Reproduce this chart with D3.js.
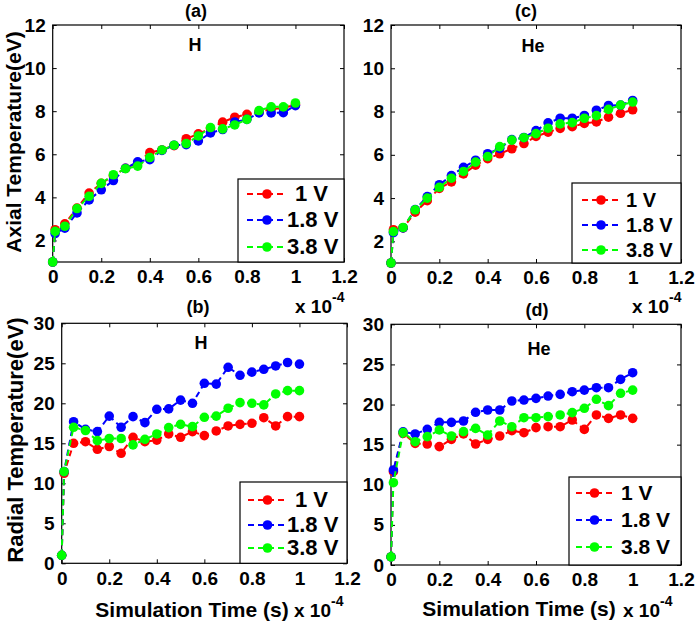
<!DOCTYPE html>
<html><head><meta charset="utf-8">
<script src="https://cdn.jsdelivr.net/npm/d3@7"></script>
<style>
body{margin:0;background:#fff}
text{font-family:"Liberation Sans",Arial,sans-serif;font-weight:bold;fill:#000}
</style>
</head><body>
<svg id="chart" width="695" height="623"></svg>
<script>
// ---- data (time in units of 1e-4 s) ----
const timeX = [0, 0.01, 0.05, 0.10, 0.15, 0.20, 0.25, 0.30, 0.35, 0.40, 0.45, 0.50, 0.55, 0.60, 0.65, 0.70, 0.75, 0.80, 0.85, 0.90, 0.95, 1.00];
const xTickValues = [0, 0.2, 0.4, 0.6, 0.8, 1, 1.2];
const axialTickValues = [2, 4, 6, 8, 10, 12];
const radialTickValues = [0, 5, 10, 15, 20, 25, 30];
const seriesNames = ["1 V", "1.8 V", "3.8 V"];
const seriesColors = ["#ff0000", "#0000ff", "#00ff00"];

// (a) axial, H
const axialH_1V  = [1, 2.50, 2.77, 3.50, 4.20, 4.65, 5.00, 5.35, 5.60, 6.08, 6.20, 6.40, 6.72, 6.95, 7.20, 7.49, 7.72, 7.85, 7.95, 8.10, 8.15, 8.30];
const axialH_18V = [1, 2.32, 2.57, 3.28, 3.88, 4.35, 4.78, 5.35, 5.65, 5.75, 6.18, 6.42, 6.45, 6.62, 6.99, 7.15, 7.50, 7.62, 7.92, 7.92, 7.93, 8.26];
const axialH_38V = [1, 2.42, 2.66, 3.48, 4.05, 4.65, 5.05, 5.33, 5.45, 5.85, 6.20, 6.42, 6.50, 6.85, 7.24, 7.18, 7.36, 7.62, 8.03, 8.20, 8.20, 8.38];
// (c) axial, He
const axialHe_1V  = [1, 2.54, 2.62, 3.35, 3.88, 4.45, 4.75, 5.12, 5.52, 5.82, 6.05, 6.28, 6.52, 6.85, 7.05, 7.22, 7.30, 7.45, 7.52, 7.74, 7.92, 8.08];
const axialHe_18V = [1, 2.40, 2.62, 3.47, 4.07, 4.62, 5.04, 5.42, 5.75, 6.05, 6.30, 6.70, 6.80, 7.12, 7.48, 7.69, 7.69, 7.82, 8.06, 8.28, 8.30, 8.51];
const axialHe_38V = [1, 2.45, 2.64, 3.46, 4.00, 4.50, 4.92, 5.23, 5.66, 5.92, 6.38, 6.68, 6.79, 6.98, 7.23, 7.43, 7.49, 7.69, 7.81, 8.10, 8.30, 8.44];
// (b) radial, H
const radialH_1V  = [1, 11.25, 15.0, 15.2, 14.25, 14.6, 13.75, 15.75, 15.2, 15.4, 16.17, 15.75, 16.46, 15.96, 16.54, 17.17, 17.37, 17.5, 18.2, 17.17, 18.33, 18.33];
const radialH_18V = [1, 11.46, 17.7, 16.75, 16.46, 18.4, 17.0, 18.33, 17.58, 19.25, 19.3, 20.4, 20.0, 22.5, 22.4, 24.5, 23.5, 23.9, 24.25, 24.67, 25.1, 24.9];
const radialH_38V = [1, 11.46, 17.0, 16.6, 15.33, 15.6, 15.6, 14.8, 15.5, 16.17, 16.96, 17.37, 17.08, 18.25, 18.4, 19.38, 20.08, 20.0, 19.8, 21.17, 21.58, 21.58];
// (d) radial, He
const radialHe_1V  = [1, 11.63, 16.4, 15.16, 15.08, 14.75, 15.66, 16.33, 15.08, 15.66, 16.08, 16.74, 16.49, 17.12, 17.24, 17.24, 18.07, 16.9, 18.7, 18.28, 18.7, 18.28];
const radialHe_18V = [1, 11.84, 16.6, 16.33, 16.9, 17.78, 17.78, 17.95, 19.03, 19.32, 19.32, 20.44, 20.56, 20.77, 21.06, 21.27, 21.6, 21.8, 22.1, 22.1, 23.14, 23.97];
const radialHe_38V = [1, 10.26, 16.5, 15.37, 16.0, 16.83, 16.08, 16.62, 17.03, 16.2, 17.95, 17.24, 18.36, 18.36, 18.49, 18.7, 18.99, 19.53, 20.65, 19.86, 21.4, 21.8];

const svg = d3.select("#chart");

const panels = [
  {tag:"(a)", gas:"H",  L:52.7, R:344, T:25, B:262, yDom:[1,12], yTicks:axialTickValues,
   data:[axialH_1V, axialH_18V, axialH_38V],
   titleX:196, titleY:17, gasX:195, gasY:51,
   leg:{x0:238, y0:179, rows:[194,220,247], l0:247, l1:287, tx:[295,287,287], fs:22},
   expX:295, expY:313, xlab:null},
  {tag:"(c)", gas:"He", L:391, R:681, T:25, B:263, yDom:[1,12], yTicks:axialTickValues,
   data:[axialHe_1V, axialHe_18V, axialHe_38V],
   titleX:526, titleY:17, gasX:533, gasY:52,
   leg:{x0:572, y0:183, rows:[200,225,250], l0:582, l1:620, tx:[626,626,626], fs:20},
   expX:632, expY:313, xlab:null},
  {tag:"(b)", gas:"H",  L:61.7, R:347, T:323.3, B:563.3, yDom:[0,30], yTicks:radialTickValues,
   data:[radialH_1V, radialH_18V, radialH_38V],
   titleX:198, titleY:313, gasX:201, gasY:349,
   leg:{x0:240, y0:482, rows:[500,525,548], l0:248, l1:287, tx:[295,287,287], fs:22},
   expX:294, expY:617, xlab:{x:192, y:617}},
  {tag:"(d)", gas:"He", L:391, R:681, T:324.3, B:565, yDom:[0,30], yTicks:radialTickValues,
   data:[radialHe_1V, radialHe_18V, radialHe_38V],
   titleX:537, titleY:316, gasX:539, gasY:355,
   leg:{x0:569, y0:477, rows:[493,520,547], l0:576, l1:613, tx:[621,621,621], fs:21},
   expX:623, expY:617, xlab:{x:519, y:616}}
];

panels.forEach(p => {
  const x = d3.scaleLinear().domain([0, 1.2]).range([p.L, p.R]);
  const y = d3.scaleLinear().domain(p.yDom).range([p.B, p.T]);
  const g = svg.append("g");

  const fmt = d => d3.format("~g")(d);
  const axB = g.append("g").attr("transform", `translate(0,${p.B})`)
    .call(d3.axisBottom(x).tickValues(xTickValues).tickFormat(fmt).tickSizeInner(-4).tickSizeOuter(0).tickPadding(8));
  const axL = g.append("g").attr("transform", `translate(${p.L},0)`)
    .call(d3.axisLeft(y).tickValues(p.yTicks).tickSizeInner(-4).tickSizeOuter(0).tickPadding(7));
  const axT = g.append("g").attr("transform", `translate(0,${p.T})`)
    .call(d3.axisTop(x).tickValues(xTickValues).tickFormat("").tickSizeInner(-4).tickSizeOuter(0));
  const axR = g.append("g").attr("transform", `translate(${p.R},0)`)
    .call(d3.axisRight(y).tickValues(p.yTicks).tickFormat("").tickSizeInner(-4).tickSizeOuter(0));
  [axB, axL, axT, axR].forEach(a => {
    a.select(".domain").remove();
    a.selectAll("line").attr("stroke", "#000").attr("stroke-width", 1);
    a.selectAll("text").attr("font-size", 19).attr("font-family", "Liberation Sans, Arial, sans-serif").attr("font-weight", "bold").attr("fill", "#000");
  });
  g.append("rect").attr("x", p.L).attr("y", p.T).attr("width", p.R - p.L).attr("height", p.B - p.T)
    .attr("fill", "none").attr("stroke", "#000").attr("stroke-width", 1.2);

  const line = d3.line().x(d => x(d[0])).y(d => y(d[1]));
  p.data.forEach((vals, i) => {
    const pts = timeX.map((t, k) => [t, vals[k]]);
    g.append("path").attr("d", line(pts)).attr("fill", "none")
      .attr("stroke", seriesColors[i]).attr("stroke-width", 2).attr("stroke-dasharray", "6,4");
    g.selectAll(null).data(pts).enter().append("circle")
      .attr("cx", d => x(d[0])).attr("cy", d => y(d[1])).attr("r", 4.8)
      .attr("fill", seriesColors[i]);
  });

  g.append("text").attr("x", p.titleX).attr("y", p.titleY).attr("text-anchor", "middle").attr("font-size", 18).text(p.tag);
  g.append("text").attr("x", p.gasX).attr("y", p.gasY).attr("text-anchor", "middle").attr("font-size", 18).text(p.gas);
  const ex = g.append("text").attr("x", p.expX).attr("y", p.expY).attr("font-size", 19).text("x 10");
  ex.append("tspan").attr("dy", -11).attr("font-size", 14).text("-4");

  const lg = p.leg;
  g.append("rect").attr("x", lg.x0).attr("y", lg.y0).attr("width", p.R - lg.x0).attr("height", p.B - lg.y0)
    .attr("fill", "#fff").attr("stroke", "#000").attr("stroke-width", 1.2);
  seriesNames.forEach((nm, i) => {
    const yy = lg.rows[i];
    g.append("line").attr("x1", lg.l0).attr("x2", lg.l1).attr("y1", yy).attr("y2", yy)
      .attr("stroke", seriesColors[i]).attr("stroke-width", 2).attr("stroke-dasharray", "6,4");
    g.append("circle").attr("cx", (lg.l0 + lg.l1) / 2).attr("cy", yy).attr("r", 4.8).attr("fill", seriesColors[i]);
    g.append("text").attr("x", lg.tx[i]).attr("y", yy + 7).attr("font-size", lg.fs).text(nm);
  });

  if (p.xlab) {
    g.append("text").attr("x", p.xlab.x).attr("y", p.xlab.y).attr("text-anchor", "middle").attr("font-size", 21).text("Simulation Time (s)");
  }
});

svg.append("text").attr("transform", "translate(21,142) rotate(-90)").attr("text-anchor", "middle").attr("font-size", 21).text("Axial Temperature(eV)");
svg.append("text").attr("transform", "translate(23,440) rotate(-90)").attr("text-anchor", "middle").attr("font-size", 22).text("Radial Temperature(eV)");
</script>
</body></html>
